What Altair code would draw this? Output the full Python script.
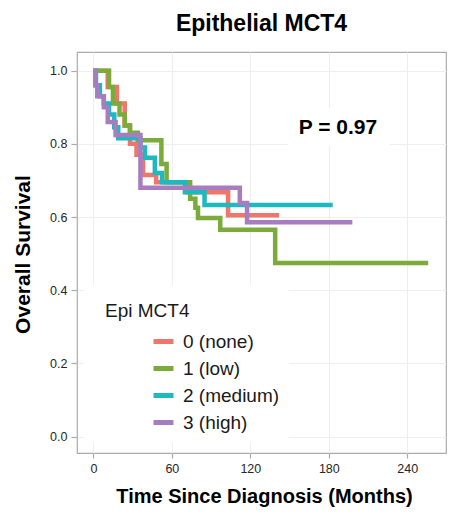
import altair as alt
import pandas as pd

groups = ["0 (none)", "1 (low)", "2 (medium)", "3 (high)"]
colors = ["#EE766A", "#7AAB3B", "#1EB8BF", "#A87DC0"]

red_t = [0, 11, 18, 24, 28, 33, 38, 48, 72, 103, 142]
red_s = [1.0, 0.955, 0.91, 0.85, 0.80, 0.77, 0.715, 0.695, 0.668, 0.605, 0.605]

green_t = [0, 12, 15, 20, 24, 28, 34, 52, 56, 74, 78, 80, 97, 139, 256]
green_s = [1.0, 0.955, 0.91, 0.88, 0.85, 0.83, 0.81, 0.745, 0.695, 0.65, 0.625, 0.597, 0.565, 0.474, 0.474]

teal_t = [0, 2, 5, 8, 12, 16, 19, 36, 39.5, 47, 52.5, 70, 85, 183]
teal_s = [1.0, 0.96, 0.93, 0.91, 0.88, 0.845, 0.815, 0.79, 0.762, 0.72, 0.695, 0.668, 0.633, 0.633]

purple_t = [0, 1.5, 3, 8, 11, 17, 36, 112, 117.5, 198]
purple_s = [1.0, 0.96, 0.93, 0.90, 0.86, 0.824, 0.68, 0.638, 0.586, 0.586]

x_ticks = [0, 60, 120, 180, 240]
y_ticks = [0.0, 0.2, 0.4, 0.6, 0.8, 1.0]

p_label = "P = 0.97"
p_pos = {"time": 187, "surv": 0.843}
p_box = {"time": 148.8, "time2": 226.8, "surv": 0.794, "surv2": 0.898}
legend_box = {"time": -7.1, "time2": 149.6, "surv": -0.017, "surv2": 0.414}

rows = []
for g, ts, ss in zip(groups, [red_t, green_t, teal_t, purple_t], [red_s, green_s, teal_s, purple_s]):
    for t, s in zip(ts, ss):
        rows.append({"group": g, "time": t, "surv": s})
df = pd.DataFrame(rows)

FONT = "Liberation Sans"
xscale = alt.Scale(domain=[-12.5, 269.6], nice=False, zero=False)
yscale = alt.Scale(domain=[-0.045, 1.051], nice=False, zero=False)


def xenc():
    return alt.X("time:Q", scale=xscale,
                 axis=alt.Axis(values=x_ticks, title="Time Since Diagnosis (Months)",
                               tickSize=5, labelPadding=4,
                               titleX=187, titleY=49, titleBaseline="alphabetic",
                               titleFontSize=20))


def yenc():
    return alt.Y("surv:Q", scale=yscale,
                 axis=alt.Axis(values=y_ticks, format=".1f", title="Overall Survival",
                               tickSize=6, labelPadding=4,
                               titleX=-48, titleY=202, titleBaseline="alphabetic",
                               titleAlign="center", titleAngle=270, titleFontSize=21))


lines = alt.Chart(df).mark_line(interpolate="step-after", strokeWidth=4.5).encode(
    x=xenc(),
    y=yenc(),
    color=alt.Color("group:N", scale=alt.Scale(domain=groups, range=colors),
                    legend=alt.Legend(orient="none", legendX=28, legendY=250,
                                      title="Epi MCT4", titleFont=FONT, titleFontSize=19,
                                      titleFontWeight="normal", titleColor="#1a1a1a",
                                      titlePadding=8, labelFont=FONT, labelFontSize=19,
                                      labelColor="#1a1a1a", symbolType="stroke",
                                      symbolStrokeWidth=5, symbolSize=400,
                                      symbolOffset=46, labelOffset=7, rowPadding=4,
                                      padding=0)),
)

boxes = alt.Chart(pd.DataFrame([p_box, legend_box])).mark_rect(fill="white").encode(
    x=xenc(),
    x2="time2:Q",
    y=yenc(),
    y2="surv2:Q",
)

ptext = alt.Chart(pd.DataFrame([{**p_pos, "label": p_label}])).mark_text(
    font=FONT, fontSize=21, fontWeight="bold", color="black", align="center", baseline="middle"
).encode(
    x=xenc(),
    y=yenc(),
    text="label:N",
)

chart = alt.layer(lines, boxes, ptext).properties(
    width=369, height=401,
    padding={"left": 69, "top": 44, "right": 5, "bottom": 58},
    autosize=alt.AutoSizeParams(type="none"),
    title=alt.TitleParams("Epithelial MCT4", font=FONT, fontSize=23, fontWeight="bold",
                          anchor="middle", offset=16, color="black"),
).configure_view(stroke="#ababab", strokeWidth=1.2).configure_axis(
    domain=False, grid=True, gridColor="#eeeeee", gridWidth=1,
    tickColor="#ababab", tickWidth=1.2,
    labelFont=FONT, labelFontSize=12.5, labelColor="#262626",
    titleFont=FONT, titleFontWeight="bold", titleColor="black",
)

chart.save("out.html", embed_options={"renderer": "svg", "actions": False})
